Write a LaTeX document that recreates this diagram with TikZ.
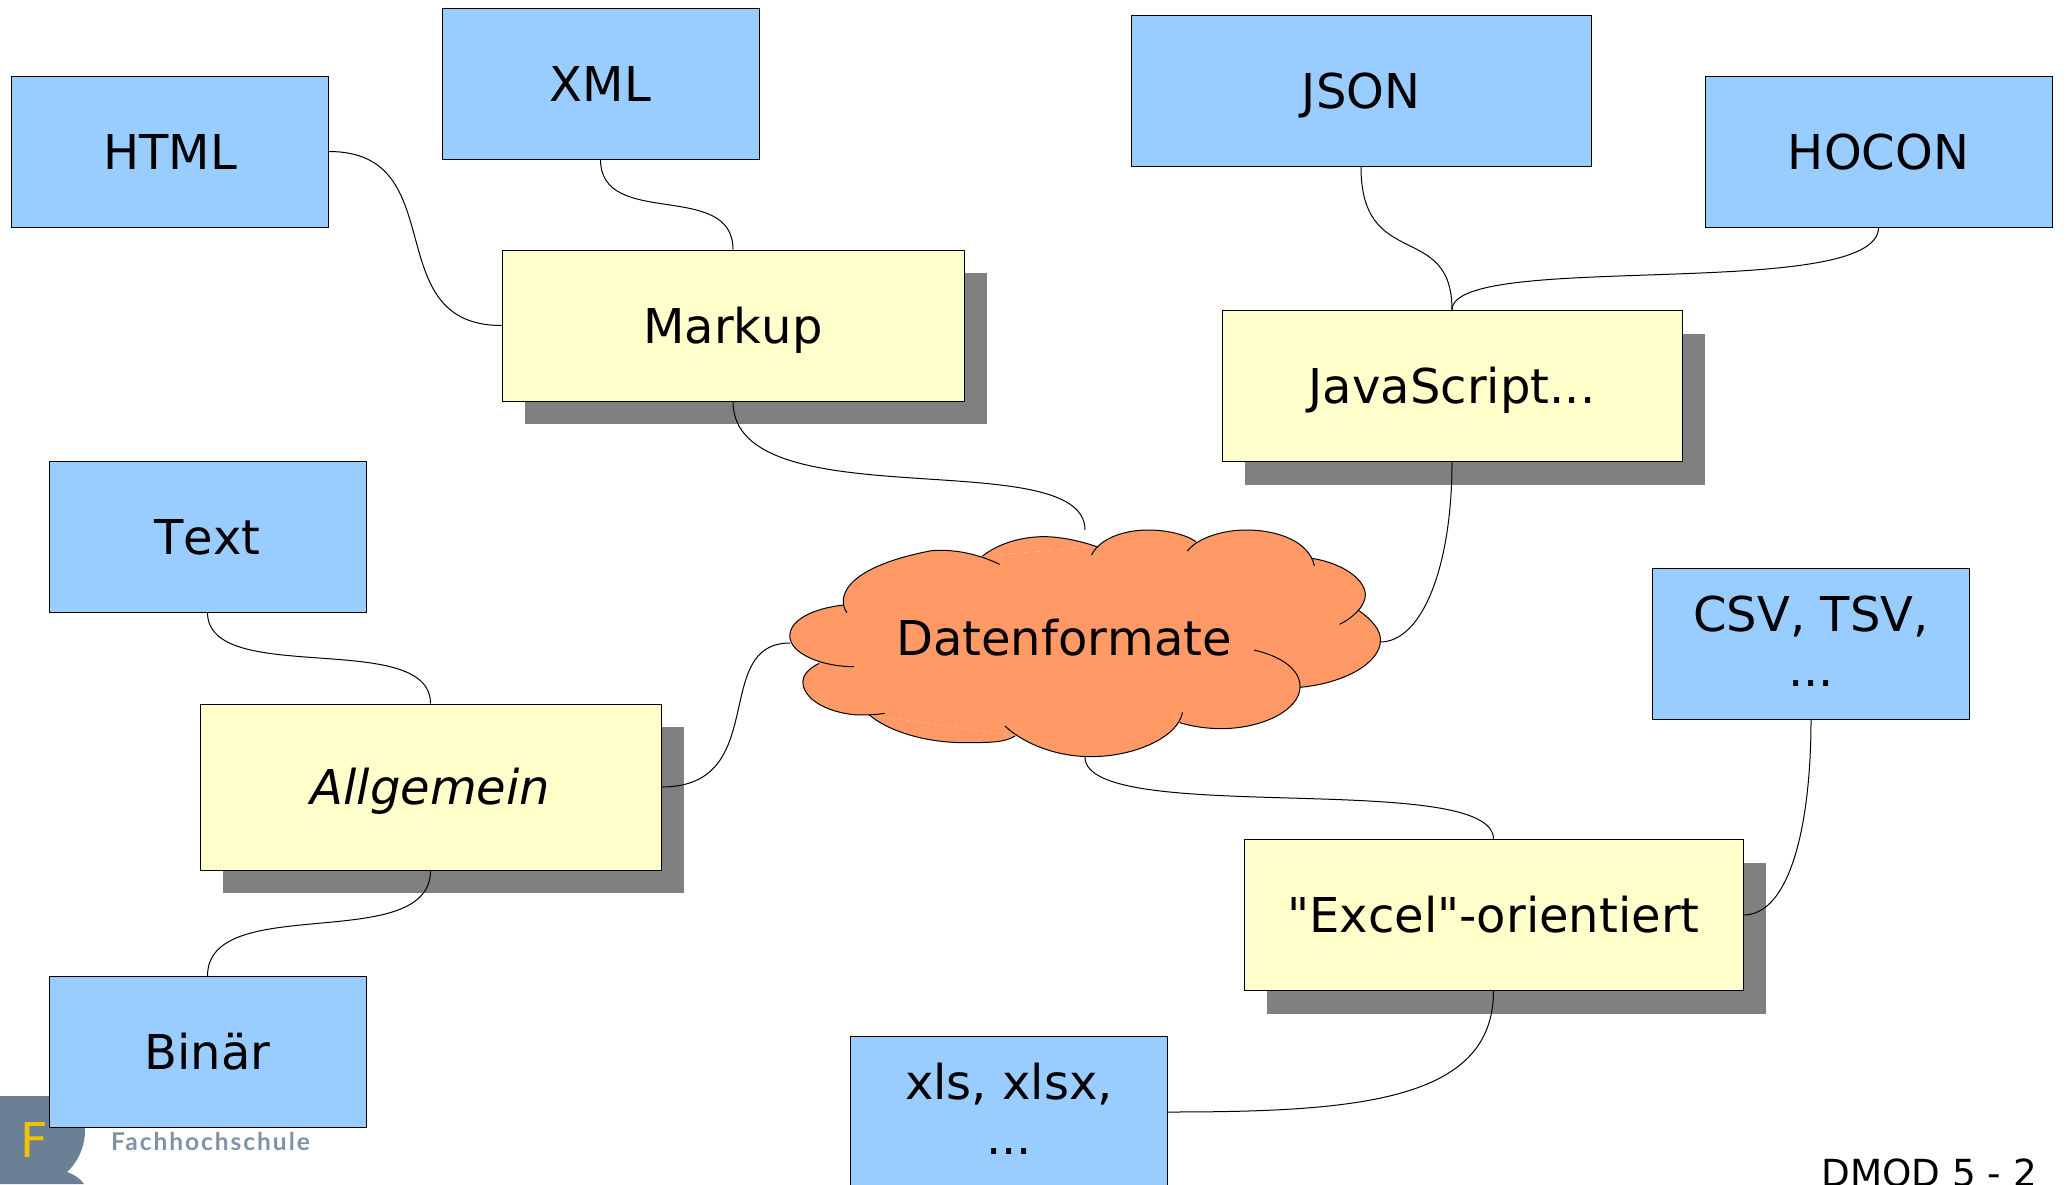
\documentclass[tikz,border=0pt]{standalone}
\usepackage{fontspec}
\setmainfont{DejaVu Sans}[Ligatures=TeXOff,Kerning=Off]
\newfontfamily\logofont[LetterSpace=8]{Lato}
\usetikzlibrary{shadows}
\definecolor{leafblue}{HTML}{99CCFF}
\definecolor{groupyellow}{HTML}{FFFFCC}
\definecolor{cloudorange}{HTML}{FF9966}
\definecolor{shadowgray}{HTML}{808080}
\definecolor{logoslate}{HTML}{6B7F95}
\definecolor{logotext}{HTML}{7F93A8}
\definecolor{logoyellow}{HTML}{F2C200}
\newcommand\capstrutup{\rule{0pt}{1.03em}}
\newcommand\capstrutdown{\rule[-0.3em]{0pt}{0.3em}}
\newcommand\twolinelabel[2]{\makebox[0pt]{\raisebox{30pt}[0pt][0pt]{#1}}\makebox[0pt]{\raisebox{-25pt}[0pt][0pt]{#2}}}
\tikzset{
  boxtext/.style={font=\fontsize{48}{57}\selectfont, text=black, align=center, inner sep=0pt,
    execute at begin node=\capstrutup, execute at end node=\capstrutdown},
  leaf/.style={boxtext, draw=black, line width=1pt, fill=leafblue, minimum width=317pt, minimum height=151pt},
  group/.style={boxtext, draw=black, line width=1pt, fill=groupyellow, minimum height=151pt,
    copy shadow={shadow xshift=23pt, shadow yshift=-23pt, fill=shadowgray, draw=none}},
  link/.style={draw=black, line width=1pt},
  cloudfill/.style={fill=cloudorange},
  cloudline/.style={draw=black, line width=1pt}
}
\newcommand\lobefill[1]{\fill[cloudfill] #1 -- cycle;}
\newcommand\lobeline[1]{\draw[cloudline] #1;}
\newcommand\cloudlobes[1]{%
  #1{(213,338) .. controls (190,300) and (195,205) .. (420,152) .. controls (480,146) and (540,165) .. (587,193)}
  #1{(545,168) .. controls (590,125) and (650,110) .. (695,110) .. controls (740,110) and (790,125) .. (825,140)}
  #1{(812,165) .. controls (835,110) and (900,90) .. (950,90) .. controls (1000,90) and (1045,105) .. (1068,125)}
  #1{(1047,153) .. controls (1075,110) and (1140,90) .. (1190,90) .. controls (1270,90) and (1345,125) .. (1358,197)}
  #1{(1352,175) .. controls (1430,190) and (1483,240) .. (1483,285) .. controls (1483,320) and (1450,355) .. (1420,373)}
  #1{(1465,330) .. controls (1500,360) and (1520,390) .. (1520,420) .. controls (1520,490) and (1430,550) .. (1323,562)}
  #1{(1210,450) .. controls (1280,470) and (1323,510) .. (1323,560) .. controls (1323,630) and (1230,686) .. (1130,686) .. controls (1090,686) and (1055,678) .. (1028,668)}
  #1{(1035,637) .. controls (1025,710) and (920,770) .. (810,770) .. controls (730,770) and (650,735) .. (600,678)}
  #1{(625,708) .. controls (600,728) and (560,728) .. (500,728) .. controls (400,728) and (310,690) .. (268,645)}
  #1{(305,640) .. controls (280,645) and (260,645) .. (240,645) .. controls (170,640) and (105,600) .. (105,545) .. controls (105,525) and (120,505) .. (145,490)}
  #1{(230,500) .. controls (150,500) and (73,460) .. (73,408) .. controls (73,360) and (130,325) .. (205,315)}
}
\begin{document}
\begin{tikzpicture}[x=1pt,y=-1pt]
\useasboundingbox (0,0) rectangle (2067,1184);
\clip (0,0) rectangle (2067,1184);
% logo
\fill[logoslate] (0,1096) -- (50,1096) .. controls (72,1096) and (85,1112) .. (85,1130) .. controls (85,1150) and (75,1165) .. (67,1172) .. controls (73,1174) and (80,1178) .. (84,1184) -- (0,1184) -- cycle;
\node[text=logoyellow, font=\fontsize{48}{48}\selectfont, inner sep=0pt] (logof) at (34,1140) {F};
\node[text=logotext, font=\logofont\bfseries\fontsize{24.5}{24}\selectfont, inner sep=0pt, anchor=west] (logotxt) at (111,1141) {Fachhochschule};
% footer
\node[font=\fontsize{37.3}{37}\selectfont, inner sep=0pt, anchor=base east] (pagenum) at (2037,1186) {DMOD 5 - 2};
% connector free ends at the cloud
\coordinate (cloudtop) at (1085,530);
\coordinate (cloudbottom) at (1085,757);
\coordinate (cloudleft) at (790,643);
\coordinate (cloudright) at (1380,642);
% group boxes
\node[group, minimum width=462pt] (markup) at (733,325.5) {Markup};
\node[group, minimum width=460pt] (js) at (1452,386) {JavaScript...};
\node[group, minimum width=461pt, minimum height=166pt] (allg) at (430.5,787) {\itshape Allgemein};
\node[group, minimum width=499pt] (excel) at (1493.5,915) {"Excel"-orientiert};
% leaf boxes
\node[leaf] (html) at (170,151.5) {HTML};
\node[leaf] (xml) at (600.5,83.5) {XML};
\node[leaf, minimum width=460pt] (json) at (1361,91) {JSON};
\node[leaf, minimum width=347pt] (hocon) at (1878.5,151.5) {HOCON};
\node[leaf] (text) at (207.5,536.5) {Text};
\node[leaf] (binar) at (207.5,1052) {Binär};
\node[leaf] (csv) at (1811,643.5) {\twolinelabel{CSV, TSV,}{...}};
\node[leaf] (xls) at (1009,1112) {\twolinelabel{xls, xlsx,}{...}};
% cloud
\begin{scope}[shift={(760,500)}, x=0.4082pt, y=-0.3333pt]
  \fill[cloudfill] (205,315) -- (545,168) -- (825,140) -- (1068,125) -- (1352,175) -- (1465,330) -- (1323,562) -- (1028,668) -- (625,708) -- (268,645) -- (145,490) -- cycle;
  \cloudlobes{\lobefill}
  \cloudlobes{\lobeline}
\end{scope}
\node[boxtext] (cloudlabel) at (1064,638) {Datenformate};
% connectors
\draw[link] (html.east) .. controls +(125,0) and +(-125,0) .. (markup.west);
\draw[link] (xml.south) .. controls +(0,70) and +(0,-70) .. (markup.north);
\draw[link] (markup.south) .. controls +(0,120) and +(0,-88) .. (cloudtop);
\draw[link] (json.south) .. controls +(0,105) and +(0,-90) .. (js.north);
\draw[link] (hocon.south) .. controls +(0,75) and +(0,-60) .. (js.north);
\draw[link] (js.south) .. controls +(0,105) and +(42,0) .. (cloudright);
\draw[link] (text.south) .. controls +(0,75) and +(0,-75) .. (allg.north);
\draw[link] (allg.south) .. controls +(0,85) and +(0,-85) .. (binar.north);
\draw[link] (allg.east) .. controls +(110,0) and +(-80,0) .. (cloudleft);
\draw[link] (cloudbottom) .. controls +(0,70) and +(0,-70) .. (excel.north);
\draw[link] (excel.east) .. controls +(45,0) and +(0,110) .. (csv.south);
\draw[link] (excel.south) .. controls +(0,110) and +(190,0) .. (xls.east);
\end{tikzpicture}
\end{document}
